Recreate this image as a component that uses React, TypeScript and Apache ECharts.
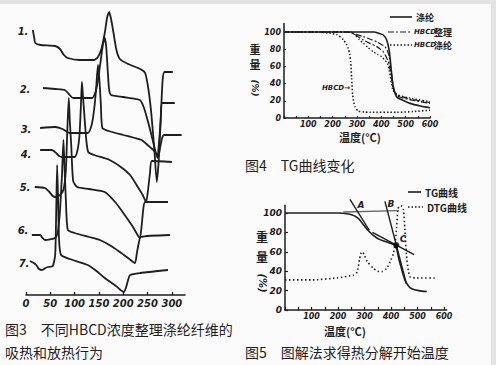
import React, { useEffect, useRef } from "react";
import * as echarts from "echarts";

// ---------- Fig.3 DSC traces: [temperature (°C), heat-flow offset (arbitrary units)] ----------
const fig3XTicks = [0, 50, 100, 150, 200, 250, 300];
const dsc1 = [[14,265],[17,257],[19,252],[30,250],[60,249],[70,246],[78,240],[86,237],[110,235],[140,235],[148,238],[155,246],[162,262],[167,278],[171,283],[175,276],[180,262],[186,245],[193,236],[210,231],[235,226],[245,222],[252,205],[258,180],[264,145],[269,113],[273,135],[277,175],[281,215],[285,223],[302,223]];
const dsc2 = [[35,207],[60,206],[80,205],[88,201],[97,197],[120,197],[136,197],[143,203],[148,215],[153,232],[158,250],[162,257],[165,248],[168,225],[171,205],[175,200],[200,198],[234,195],[242,188],[250,175],[258,160],[264,148],[270,137],[274,155],[277,175],[280,192],[306,192]];
const dsc3 = [[29,167],[60,168],[75,166],[90,162],[127,162],[135,170],[140,185],[144,205],[148,230],[151,215],[154,190],[157,167],[170,164],[200,160],[224,157],[238,155],[250,150],[262,145],[272,139],[276,148],[280,157],[284,160],[320,160]];
const dsc4 = [[29,145],[53,145],[62,142],[68,139],[74,138],[100,138],[106,145],[110,160],[113,190],[115,213],[117,200],[120,180],[124,155],[128,143],[140,140],[172,135],[195,128],[214,120],[230,108],[240,100],[247,93],[251,105],[255,122],[259,134],[300,133]];
const dsc5 = [[18,108],[39,107],[48,103],[55,99],[60,98],[70,100],[77,105],[82,125],[85,165],[88,197],[90,175],[93,150],[97,114],[105,108],[130,106],[162,103],[185,92],[203,80],[220,68],[234,57],[238,70],[241,85],[245,93],[292,93]];
const dsc6 = [[12,60],[29,60],[34,57],[39,55],[60,57],[66,65],[70,85],[74,120],[77,155],[79,130],[82,95],[86,65],[100,62],[130,58],[152,55],[175,49],[193,43],[210,37],[224,32],[228,42],[232,52],[236,58],[296,60]];
const dsc7 = [[8,34],[16,32],[21,30],[27,26],[33,25],[40,27],[45,28],[55,29],[60,40],[62,80],[64,130],[66,95],[68,55],[72,40],[90,36],[127,30],[145,24],[162,17],[185,9],[201,3],[206,8],[210,15],[214,20],[235,22],[292,25]];
const dscCurves = [dsc1, dsc2, dsc3, dsc4, dsc5, dsc6, dsc7];
const dscNames = ["1.", "2.", "3.", "4.", "5.", "6.", "7."];

// ---------- Fig.4 TG curves: [temperature (°C), weight (%)] ----------
const fig4XLabels = [100, 200, 300, 400, 500, 600];
const fig4XTicks = [0, 50, 100, 150, 200, 250, 300, 350, 400, 450, 500, 550, 600];
const fig4YTicks = [0, 20, 40, 60, 80, 100];
const tgPolyester = [[0,100],[150,100],[300,100],[370,100],[390,98.5],[408,96.5],[422,90.7],[433,77],[440,58],[447,40],[456,29],[465,24],[477,22],[518,17],[560,14],[600,12]];
const tgTreatedA = [[0,100],[250,100],[271,99.6],[300,97],[326,94.6],[355,91.5],[381,88.7],[400,85.5],[415,83],[425,78],[433,71],[440,56],[447,40],[455,30],[470,25],[520,21],[600,17]];
const tgTreatedB = [[0,100],[270,100],[285,98.5],[305,94.5],[326,90.7],[355,86.5],[381,83],[408,77],[420,71],[429,65.5],[436,56],[443,44],[450,33],[465,27],[520,22],[600,18]];
const tgTreatedC = [[0,100],[275,100],[292,96.5],[310,91],[326,87],[345,82],[367,77],[385,74],[401,71.3],[415,67],[425,63.6],[433,54],[440,42],[448,32],[465,27],[520,23],[600,19]];
const tgHBCD = [[0,100],[150,100],[189,98.5],[217,97],[244,91],[256,86],[264,81],[270,74],[274,65.5],[278,46],[282,27],[287,18],[292,13],[305,8],[330,7],[353,6.6],[463,6.6],[530,7.5],[600,9]];

// ---------- Fig.5 graphical onset method: [temperature (°C), weight (%)] ----------
const fig5XLabels = [100, 200, 300, 400, 500, 600];
const fig5XTicks = [0, 50, 100, 150, 200, 250, 300, 350, 400, 450, 500, 550, 600];
const fig5YTicks = [0, 20, 40, 60, 80, 100];
const tgCurve = [[0,100],[100,100],[200,100],[240,99],[262,97],[280,93.5],[295,88],[310,83],[333,77],[358,72.5],[390,69.5],[405,68],[415,66.5],[422,62],[430,52],[437,45],[443,39],[452,31],[465,25],[478,22],[505,20],[535,19]];
const dtgCurve = [[0,31],[100,31],[195,33],[258,36],[272,39],[281,52],[286,58],[292,60],[300,56],[310,50],[333,43],[350,40],[365,39.5],[384,43],[400,52],[409,58],[416,70],[421,85],[426,104],[431,107],[441,107],[447,103],[452,84],[458,57],[465,41],[472,34],[497,33],[575,33]];
const baselineExt = [[220,101],[430,102.5]];
const tangentA = [[245,114],[318,82]];
const tangentB = [[377,112],[458,27]];
const tangentC = [[330,80],[487,57]];

function intersect(l1: number[][], l2: number[][]) {
  const s1 = (l1[1][1] - l1[0][1]) / (l1[1][0] - l1[0][0]);
  const s2 = (l2[1][1] - l2[0][1]) / (l2[1][0] - l2[0][0]);
  const b1 = l1[0][1] - s1 * l1[0][0];
  const b2 = l2[0][1] - s2 * l2[0][0];
  const x = (b2 - b1) / (s1 - s2);
  return [x, s1 * x + b1];
}
const pointC = intersect(tangentB, tangentC);

const INK = "#1e1e1e";
const numFont = { fontFamily: "DejaVu Sans", fontStyle: "italic", fontWeight: "bold", color: INK } as const;

function txt(x: number, y: number, text: string, font: string, align = "center", rotation = 0, lineHeight?: number) {
  return {
    type: "text", x, y, rotation,
    style: { text, font, fill: INK, textAlign: align, textVerticalAlign: "middle", align, verticalAlign: "middle", lineHeight },
  };
}
function seg(x1: number, y1: number, x2: number, y2: number, dash?: number[], w = 1.5) {
  return { type: "line", shape: { x1, y1, x2, y2 }, style: { stroke: INK, lineWidth: w, lineDash: dash } };
}

const hand = (s: number) => `italic bold ${s}px "DejaVu Sans"`;
const cjkHand = (s: number) => `bold ${s}px "Noto Sans CJK SC"`;
const caption = `normal 14px "Noto Sans CJK SC"`;

function lineSeries(data: number[][], idx: number, style: any, extra: any = {}) {
  return {
    type: "line", xAxisIndex: idx, yAxisIndex: idx, data, symbol: "none", showSymbol: false,
    smooth: 0.2, lineStyle: { color: INK, width: 1.5, ...style }, silent: true, z: 3, ...extra,
  };
}

export default function App() {
  const ref = useRef<HTMLDivElement>(null);
  useEffect(() => {
    document.body.style.margin = "0";
    const chart = echarts.init(ref.current!, null, { renderer: "svg" });
    const axisLine = { show: true, lineStyle: { color: INK, width: 1.5 } };
    const option: any = {
      animation: false,
      backgroundColor: "#fbfbfb",
      grid: [
        { left: 26, top: 5, width: 159, height: 290, outerBoundsMode: "none" },
        { left: 284, top: 23.4, width: 146, height: 94.6, outerBoundsMode: "none" },
        { left: 285, top: 205.2, width: 161.7, height: 104.8, outerBoundsMode: "none" },
      ],
      xAxis: [
        { type: "value", gridIndex: 0, min: 0, max: 327, axisLine, splitLine: { show: false },
          axisTick: { show: true, inside: true, length: 3, customValues: fig3XTicks, lineStyle: { color: INK, width: 1.3 } },
          axisLabel: { ...numFont, fontSize: 10, margin: 3, customValues: fig3XTicks } },
        { type: "value", gridIndex: 1, min: 0, max: 600, axisLine, splitLine: { show: false },
          axisTick: { show: true, inside: true, length: 2, customValues: fig4XTicks, lineStyle: { color: INK, width: 1.2 } },
          axisLabel: { ...numFont, fontSize: 8, margin: 2, customValues: fig4XLabels } },
        { type: "value", gridIndex: 2, min: 0, max: 610, axisLine, splitLine: { show: false },
          axisTick: { show: true, inside: true, length: 3, customValues: fig5XTicks, lineStyle: { color: INK, width: 1.2 } },
          axisLabel: { ...numFont, fontSize: 8, margin: 2, customValues: fig5XLabels } },
      ],
      yAxis: [
        { type: "value", gridIndex: 0, min: 0, max: 290, show: false },
        { type: "value", gridIndex: 1, min: 0, max: 110, axisLine, splitLine: { show: false },
          axisTick: { show: true, inside: true, length: 2, customValues: fig4YTicks, lineStyle: { color: INK, width: 1.2 } },
          axisLabel: { ...numFont, fontSize: 8, margin: 3, customValues: fig4YTicks } },
        { type: "value", gridIndex: 2, min: 0, max: 108, axisLine, splitLine: { show: false },
          axisTick: { show: true, inside: true, length: 3, customValues: fig5YTicks, lineStyle: { color: INK, width: 1.2 } },
          axisLabel: { ...numFont, fontSize: 9, margin: 3, customValues: fig5YTicks } },
      ],
      series: [
        ...dscCurves.map((d, i) => lineSeries(d, 0, { width: 1.8 }, { name: dscNames[i] })),
        lineSeries(tgPolyester, 1, { width: 1.6 }, { name: "涤纶" }),
        lineSeries(tgTreatedA, 1, { width: 1.2, type: [6, 2, 2, 2] }, { name: "HBCD整理A" }),
        lineSeries(tgTreatedB, 1, { width: 1.2, type: [6, 2, 2, 2] }, { name: "HBCD整理B" }),
        lineSeries(tgTreatedC, 1, { width: 1.3, type: [1.5, 2] }, { name: "HBCD涤纶" }),
        lineSeries(tgHBCD, 1, { width: 1.6, type: [1.5, 2] }, { name: "HBCD" }),
        lineSeries(tgCurve, 2, { width: 1.6 }, { name: "TG曲线" }),
        lineSeries(dtgCurve, 2, { width: 1.6, type: [1.5, 2.5] }, { name: "DTG曲线", clip: false }),
        lineSeries(baselineExt, 2, { width: 1.3, color: "#666" }, { smooth: false, clip: false }),
        lineSeries(tangentA, 2, { width: 1.4 }, { smooth: false, clip: false }),
        lineSeries(tangentB, 2, { width: 1.4 }, { smooth: false, clip: false }),
        lineSeries(tangentC, 2, { width: 1.4 }, { smooth: false, clip: false }),
        { type: "scatter", xAxisIndex: 2, yAxisIndex: 2, data: [pointC], symbolSize: 6,
          itemStyle: { color: "#000" }, silent: true, z: 5 },
      ],
      graphic: [
        { type: "rect", shape: { x: 0, y: 0, width: 496, height: 4 }, style: { fill: "#e3e3e3" } },
        { type: "rect", shape: { x: 491, y: 0, width: 5, height: 365 }, style: { fill: "#e3e3e3" } },
        // Fig.3 curve numbers
        txt(23, 31, "1.", hand(10)),
        txt(25, 89, "2.", hand(10)),
        txt(26, 129, "3.", hand(10)),
        txt(26, 154, "4.", hand(10)),
        txt(25, 187, "5.", hand(10)),
        txt(23, 230, "6.", hand(10)),
        txt(24, 263, "7.", hand(10)),
        // Fig.4 legend & labels
        seg(390, 17, 412, 17, undefined, 1.6),
        txt(416, 17, "涤纶", cjkHand(9), "left"),
        seg(388, 32, 412, 32, [6, 2, 2, 2], 1.2),
        txt(414, 32, "HBCD", hand(7), "left"),
        txt(434, 32, "整理", cjkHand(9), "left"),
        seg(390, 45, 412, 45, [1.5, 2], 1.4),
        txt(414, 45, "HBCD", hand(7), "left"),
        txt(434, 45, "涤纶", cjkHand(9), "left"),
        txt(255, 49, "重", cjkHand(11)),
        txt(255, 64, "量", cjkHand(11)),
        txt(255, 88, "(%)", hand(9), "center", -Math.PI / 2),
        txt(360, 137, "温度(°C)", cjkHand(11)),
        txt(322, 88, "HBCD→", hand(7), "left"),
        // Fig.5 legend & labels
        seg(408, 192, 421, 192, undefined, 1.6),
        txt(425, 192, "TG曲线", cjkHand(10), "left"),
        seg(408, 207, 423, 207, [1.5, 2], 1.5),
        txt(427, 207, "DTG曲线", cjkHand(10), "left"),
        txt(361, 205, "A", hand(9)),
        txt(391, 204, "B", hand(9)),
        txt(403, 239, "C", hand(9)),
        txt(262, 236, "重", cjkHand(12)),
        txt(262, 256, "量", cjkHand(12)),
        txt(262, 283, "(%)", hand(10), "center", -Math.PI / 2),
        txt(345, 331, "温度(°C)", cjkHand(11)),
        // captions
        txt(5, 329, "图3　不同HBCD浓度整理涤纶纤维的", caption, "left"),
        txt(5, 352, "吸热和放热行为", caption, "left"),
        txt(245, 165, "图4　TG曲线变化", caption, "left"),
        txt(245, 352, "图5　图解法求得热分解开始温度", caption, "left"),
      ],
    };
    chart.setOption(option);
    return () => chart.dispose();
  }, []);
  return <div ref={ref} style={{ position: "fixed", left: 0, top: 0, width: 496, height: 365 }} />;
}
